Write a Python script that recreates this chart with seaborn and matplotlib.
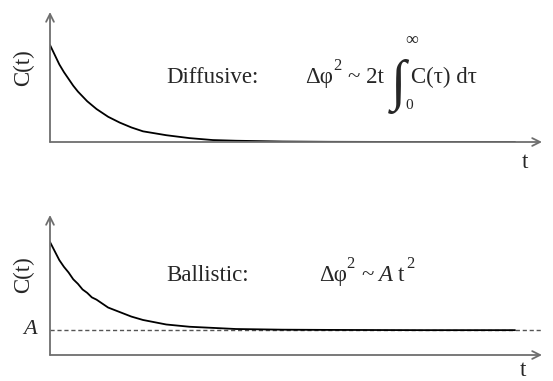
import matplotlib
matplotlib.use("Agg")
import matplotlib.pyplot as plt
import numpy as np
import pandas as pd
import seaborn as sns

W, H = 553, 381

# values (t in arbitrary units, C normalised to C(0)=1)
t_vals = [0, 0.1, 0.2, 0.3, 0.4, 0.5, 0.6, 0.7, 0.8, 0.9, 1.0, 1.25, 1.5,
          1.75, 2.0, 2.5, 3.0, 3.5, 4.0, 5.0, 6.0, 7.0, 8.0, 10.0]
c_diffusive = [1.0, 0.90, 0.80, 0.72, 0.65, 0.58, 0.52, 0.47, 0.42, 0.38,
               0.34, 0.26, 0.20, 0.15, 0.11, 0.07, 0.04, 0.02, 0.013,
               0.005, 0.002, 0.001, 0.0, 0.0]
c_ballistic = [1.0, 0.92, 0.84, 0.78, 0.73, 0.67, 0.63, 0.58, 0.55, 0.51,
               0.49, 0.42, 0.38, 0.34, 0.31, 0.27, 0.25, 0.24, 0.23,
               0.224, 0.222, 0.221, 0.22, 0.22]
A_level = 0.22

sns.set_style("white")
plt.rcParams['font.family'] = ['Liberation Serif', 'DejaVu Serif']

fig = plt.figure(figsize=(W / 100, H / 100), dpi=100)
FS = 16.5

def px_axes(left, right, top, bottom):
    return fig.add_axes([left / W, 1 - bottom / H, (right - left) / W, (bottom - top) / H])

def put(x, y, s, size=FS, **kw):
    fig.text(x / W, 1 - y / H, s, fontsize=size, va='baseline', ha='left', **kw)

axis_col = '#6e6e6e'

def dress(ax, ymax):
    ax.set_xlim(0, 10.58)
    ax.set_ylim(0, ymax)
    for sp in ax.spines.values():
        sp.set_visible(False)
    ax.set_xticks([])
    ax.set_yticks([])
    ax.set_xlabel("")
    ax.set_ylabel("")
    arrow = dict(arrowstyle='->', color=axis_col, lw=1.3, shrinkA=0, shrinkB=0,
                 mutation_scale=14)
    ax.annotate('', xy=(1, 0), xytext=(0, 0), xycoords='axes fraction', arrowprops=arrow)
    ax.annotate('', xy=(0, 1), xytext=(0, 0), xycoords='axes fraction', arrowprops=arrow)

# top panel
ax1 = px_axes(50, 542, 12, 142)
df1 = pd.DataFrame({"t": t_vals, "C": c_diffusive})
sns.lineplot(data=df1, x="t", y="C", ax=ax1, color='black', lw=1.3)
dress(ax1, 1.34)

# bottom panel
ax2 = px_axes(50, 542, 215, 355)
df2 = pd.DataFrame({"t": t_vals, "C": c_ballistic})
ax2.axhline(A_level, color='#555555', lw=1.0, ls=(0, (3, 2)))
sns.lineplot(data=df2, x="t", y="C", ax=ax2, color='black', lw=1.3)
dress(ax2, 1.239)

# axis labels
fig.text(24 / W, 1 - 68 / H, "C(t)", rotation=90, fontsize=FS, ha='center', va='center')
fig.text(24 / W, 1 - 275 / H, "C(t)", rotation=90, fontsize=FS, ha='center', va='center')
fig.text(525 / W, 1 - 162 / H, "t", fontsize=FS, ha='center', va='center')
fig.text(523 / W, 1 - 371 / H, "t", fontsize=FS, ha='center', va='center')
fig.text(30 / W, 1 - 329 / H, "A", fontsize=16, ha='center', va='center',
         style='italic')

# diffusive formula
put(166, 83, "Diffusive:")
put(305, 83, "Δφ")
put(333, 70, "2", size=12)
put(348, 83, "~ 2t")
put(391, 99, "∫", size=40)
put(405, 45, "∞", size=13)
put(405, 109, "0", size=11)
put(411, 83, "C(τ) dτ")

# ballistic formula
put(166, 281, "Ballistic:")
put(319, 281, "Δφ")
put(346, 268, "2", size=12)
put(361, 281, "~")
put(378, 281, "A", style='italic', size=16.5)
put(398, 281, "t")
put(406, 268, "2", size=12)

fig.savefig("out.png", dpi=100)
